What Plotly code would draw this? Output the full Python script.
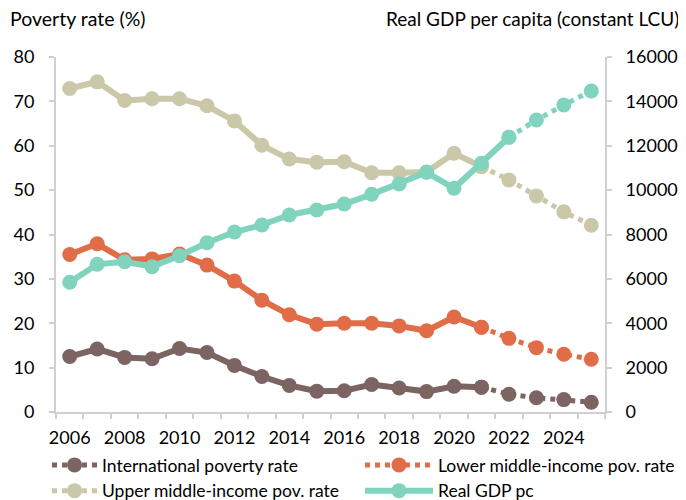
import plotly.graph_objects as go

years = [2006, 2007, 2008, 2009, 2010, 2011, 2012, 2013, 2014, 2015,
         2016, 2017, 2018, 2019, 2020, 2021, 2022, 2023, 2024, 2025]
intl_pov = [12.5, 14.2, 12.3, 12.0, 14.3, 13.4, 10.5, 8.0, 6.0, 4.7,
            4.8, 6.2, 5.4, 4.6, 5.8, 5.6, 4.0, 3.2, 2.8, 2.2]
lmic_pov = [35.5, 37.9, 34.3, 34.5, 35.6, 33.1, 29.5, 25.2, 21.9, 19.8,
            20.0, 20.0, 19.4, 18.3, 21.4, 19.1, 16.6, 14.5, 13.0, 11.9]
umic_pov = [72.9, 74.4, 70.2, 70.6, 70.6, 69.0, 65.6, 60.1, 57.0, 56.3,
            56.4, 53.9, 53.9, 54.1, 58.3, 55.3, 52.3, 48.7, 45.1, 42.1]
gdp_pc = [5845, 6657, 6775, 6549, 7045, 7631, 8110, 8430, 8880, 9104,
          9375, 9811, 10276, 10803, 10082, 11209, 12381, 13161, 13837, 14468]
xtick_labels = ["2006", "2008", "2010", "2012", "2014", "2016", "2018", "2020", "2022", "2024"]

pov_last_actual = 2021
gdp_last_actual = 2022

C_INTL = "#7b6462"
C_LMIC = "#e06d48"
C_UMIC = "#cbc8a9"
C_GDP = "#80d3bc"
FONT = "Lato"

fig = go.Figure()


def add_series(name, vals, color, cutoff, yaxis, legend_dotted, legend_id):
    i = years.index(cutoff)
    xa, ya = years[: i + 1], vals[: i + 1]
    xp, yp = years[i:], vals[i:]
    fig.add_trace(go.Scatter(
        x=xa, y=ya, mode="lines+markers", name=name, yaxis=yaxis,
        line=dict(color=color, width=6), marker=dict(color=color, size=15),
        legendgroup=name, showlegend=not legend_dotted, legend=legend_id,
        hoverinfo="skip"))
    fig.add_trace(go.Scatter(
        x=xp, y=yp, mode="lines+markers", name=name, yaxis=yaxis,
        line=dict(color=color, width=5, dash="dot"), marker=dict(color=color, size=15),
        legendgroup=name, showlegend=legend_dotted, legend=legend_id,
        hoverinfo="skip"))


add_series("International poverty rate", intl_pov, C_INTL, pov_last_actual, "y", True, "legend")
add_series("Lower middle-income pov. rate", lmic_pov, C_LMIC, pov_last_actual, "y", True, "legend2")
add_series("Upper middle-income pov. rate", umic_pov, C_UMIC, pov_last_actual, "y", True, "legend")
add_series("Real GDP pc", gdp_pc, C_GDP, gdp_last_actual, "y2", False, "legend2")

axis_color = "#d0d0d0"
boundaries = [y - 0.5 for y in years] + [years[-1] + 0.5]

W, H = 678, 492  # page body adds an 8px offset
legend_common = dict(
    orientation="v", xref="container", yref="container",
    xanchor="left", yanchor="top", bgcolor="rgba(0,0,0,0)",
    font=dict(family=FONT, size=17.5), traceorder="normal", tracegroupgap=0,
)

fig.update_layout(
    width=W, height=H,
    margin=dict(l=48, r=81, t=49, b=88, autoexpand=False),
    paper_bgcolor="white", plot_bgcolor="white",
    font=dict(family=FONT, size=18, color="#000000"),
    xaxis=dict(
        range=[years[0] - 0.5, years[-1] + 0.5],
        tickvals=[int(t) for t in xtick_labels], ticktext=xtick_labels,
        ticks="", showgrid=False, zeroline=False,
        showline=True, linecolor=axis_color, linewidth=2,
        ticklabelstandoff=8, automargin=False,
        minor=dict(tickvals=boundaries, ticks="outside", ticklen=5,
                   tickcolor=axis_color, tickwidth=2, showgrid=False),
    ),
    yaxis=dict(
        range=[0, 80], dtick=10, showgrid=False, zeroline=False,
        showline=True, linecolor=axis_color, linewidth=2,
        ticks="outside", ticklen=5, tickcolor=axis_color, tickwidth=2,
        ticklabelstandoff=11, automargin=False,
    ),
    yaxis2=dict(
        range=[0, 16000], dtick=2000, overlaying="y", side="right",
        tickformat="d",
        showgrid=False, zeroline=False,
        showline=True, linecolor=axis_color, linewidth=2,
        ticks="outside", ticklen=5, tickcolor=axis_color, tickwidth=2,
        ticklabelstandoff=10, automargin=False,
    ),
    legend=dict(x=39 / W, y=1 - 439 / H, itemwidth=45, **legend_common),
    legend2=dict(x=352 / W, y=1 - 439 / H, itemwidth=68, **legend_common),
    annotations=[
        dict(text="Poverty rate (%)", xref="paper", yref="paper", x=0, y=1,
             xanchor="left", yanchor="middle", xshift=-48, yshift=39,
             showarrow=False, font=dict(family=FONT, size=19.5)),
        dict(text="Real GDP per capita (constant LCU)", xref="paper", yref="paper",
             x=1, y=1, xanchor="right", yanchor="middle", xshift=76, yshift=39,
             showarrow=False, font=dict(family=FONT, size=19)),
    ],
)

fig.write_html("out.html")
